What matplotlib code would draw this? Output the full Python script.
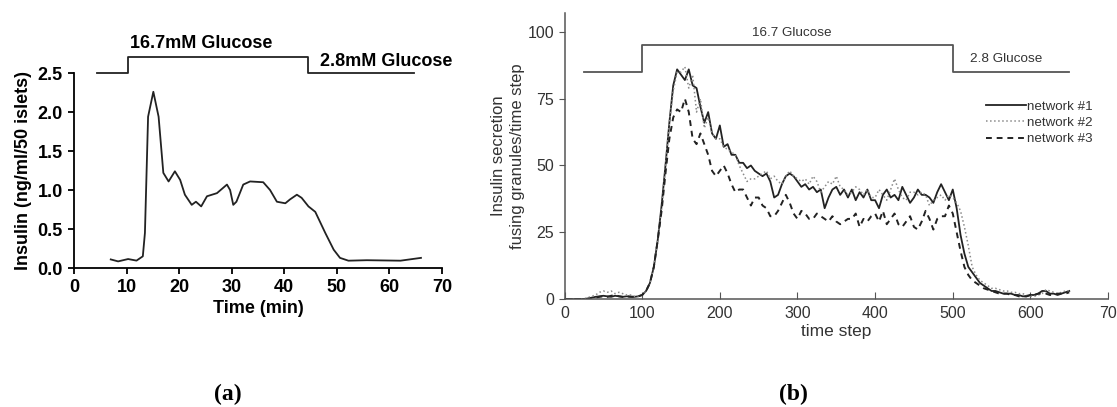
import numpy as np
import matplotlib
matplotlib.use("Agg")
import matplotlib.pyplot as plt

# (a) measured insulin release from islets
time_min = [7.0, 8.4, 10.3, 11.9, 13.1, 13.5, 14.1, 15.1, 16.1, 17.0, 18.0, 19.2,
            20.2, 21.1, 22.4, 23.2, 24.2, 25.3, 27.2, 29.1, 29.7, 30.3, 30.9, 32.2,
            33.5, 36.0, 37.3, 38.6, 40.2, 41.1, 42.4, 43.3, 44.6, 45.9, 47.8, 49.4,
            50.6, 52.2, 55.7, 62.1, 66.0]
insulin = [0.11, 0.085, 0.115, 0.095, 0.15, 0.45, 1.94, 2.26, 1.94, 1.22, 1.11, 1.24,
           1.13, 0.94, 0.81, 0.85, 0.79, 0.92, 0.96, 1.07, 1.0, 0.81, 0.85, 1.07,
           1.11, 1.1, 1.0, 0.85, 0.83, 0.88, 0.94, 0.9, 0.79, 0.72, 0.45, 0.235,
           0.13, 0.094, 0.1, 0.094, 0.13]

# glucose protocol (a): start, switch up, switch down, end
glu_a_t = [4.4, 10.3, 10.3, 44.6, 44.6, 64.6]
glu_a_y = [2.5, 2.5, 2.71, 2.71, 2.5, 2.5]

# (b) simulated secretion, one value every 5 time steps
steps = np.arange(0, 655, 5)
net1 = [0, 0, 0, 0, 0, 0, 0.2, 0.5, 0.8, 1.0, 1.2, 1.0, 0.8, 1.2, 1.0, 0.8, 1.0, 0.9, 0.8, 1.0,
        1.5, 3, 6, 12, 22, 35, 50, 66, 80, 86, 84, 82, 86, 80, 79, 72, 66, 70, 62, 60,
        65, 57, 58, 54, 54, 51, 51, 49, 50, 48, 47, 46, 47, 44, 38, 39, 43, 46, 47, 46,
        44, 42, 43, 41, 42, 40, 41, 34, 38, 41, 42, 39, 41, 38, 41, 37, 40, 38, 41, 37,
        37, 34, 39, 41, 38, 39, 37, 42, 39, 36, 38, 41, 39, 39, 38, 36, 40, 43, 40, 37,
        41, 34, 24, 17, 12, 10, 8, 6, 5, 4, 3, 3, 2.5, 2, 2, 2, 1.5, 1.5, 1, 1,
        1.5, 1.5, 2, 3, 3, 2, 2, 1.5, 2, 2.5, 3]
net2 = [0, 0, 0, 0, 0, 0, 0.5, 1, 1.5, 2.5, 3, 2.5, 3, 2, 2.5, 2, 1.5, 1.5, 1, 1,
        1.5, 3, 6, 12, 22, 34, 50, 66, 78, 85, 85, 87, 79, 84, 70, 75, 64, 68, 62, 60,
        60, 57, 56, 55, 54, 50, 47, 44, 45, 45, 46, 47, 48, 45, 46, 44, 43, 46, 48, 46,
        45, 44, 45, 43, 46, 44, 40, 42, 44, 43, 46, 42, 41, 39, 40, 42, 41, 39, 41, 38,
        38, 41, 39, 37, 41, 45, 41, 38, 37, 40, 40, 39, 40, 39, 35, 37, 38, 39, 37, 39,
        38, 36, 33, 27, 20, 12, 9, 7, 6, 5, 4, 4, 3.5, 3, 3, 2.5, 2.5, 2, 2, 1.5,
        1, 1, 1.5, 2, 3.5, 3, 2.5, 2, 2.5, 3, 3]
net3 = [0, 0, 0, 0, 0, 0, 0, 0.3, 0.5, 0.8, 1, 0.8, 1.2, 1.5, 1, 0.8, 1, 0.8, 0.8, 1,
        1.5, 3, 6, 12, 22, 33, 47, 60, 68, 71, 70, 75, 70, 60, 58, 62, 58, 54, 48, 46,
        48, 50, 47, 43, 40, 41, 41, 38, 35, 38, 38, 35, 34, 31, 31, 33, 36, 39, 36, 32,
        30, 33, 32, 30, 30, 32, 31, 30, 29, 31, 29, 28, 29, 30, 30, 32, 27, 30, 29, 31,
        32, 29, 33, 28, 30, 32, 28, 27, 29, 31, 27, 26, 29, 33, 30, 26, 30, 31, 31, 35,
        32, 25, 18, 12, 9, 7, 6, 5, 4, 3.5, 3, 2.5, 2, 2, 2, 1.5, 1.5, 1, 1, 1,
        1.5, 1.5, 2, 2, 2, 1.5, 1.5, 2, 2, 2, 2.5]
step_ticks = [0, 100, 200, 300, 400, 500, 600, 700]
step_labels = ['0', '100', '200', '300', '400', '500', '600', '70']

# glucose protocol (b)
glu_b_t = [25, 100, 100, 500, 500, 650]
glu_b_y = [85, 85, 95, 95, 85, 85]

fig = plt.figure(figsize=(11.17, 4.07), dpi=100)
plt.rcParams['font.family'] = ['Liberation Sans', 'DejaVu Sans']

# ---- panel a ----
ax1 = fig.add_axes([0.0662, 0.3415, 0.3295, 0.479])
ax1.plot(time_min, insulin, color='#222222', lw=1.3)
ax1.plot(glu_a_t, glu_a_y, color='#222222', lw=1.3, clip_on=False)
ax1.text(10.66, 2.885, '16.7mM Glucose', fontsize=13, fontweight='bold', va='center')
ax1.text(46.8, 2.654, '2.8mM Glucose', fontsize=13, fontweight='bold', va='center')
ax1.set_xlim(0, 70)
ax1.set_ylim(0, 2.5)
ax1.set_xticks(range(0, 71, 10))
ax1.set_yticks([0, 0.5, 1.0, 1.5, 2.0, 2.5])
ax1.set_yticklabels(['0.0', '0.5', '1.0', '1.5', '2.0', '2.5'])
for s in ['top', 'right']:
    ax1.spines[s].set_visible(False)
for s in ['left', 'bottom']:
    ax1.spines[s].set_linewidth(1.3)
ax1.tick_params(direction='out', length=4, width=1.3, labelsize=13, pad=4)
for lab in ax1.get_xticklabels() + ax1.get_yticklabels():
    lab.set_fontweight('bold')
ax1.set_xlabel('Time (min)', fontsize=13, fontweight='bold', labelpad=3)
ax1.set_ylabel('Insulin (ng/ml/50 islets)', fontsize=13, fontweight='bold', labelpad=4)

# ---- panel b ----
ax2 = fig.add_axes([0.5054, 0.2654, 0.4866, 0.7019])
gray = '#555555'
ax2.plot(steps, net1, color='#222222', lw=1.3, label='network #1')
ax2.plot(steps, net2, color='#8a8a8a', lw=1.1, ls=':', label='network #2')
ax2.plot(steps, net3, color='#222222', lw=1.4, ls=(0, (3, 2.5)), label='network #3')
ax2.plot(glu_b_t, glu_b_y, color=gray, lw=1.3)
ax2.text(292, 99.6, '16.7 Glucose', fontsize=9.7, color='#333333', ha='center', va='center')
ax2.text(569, 89.7, '2.8 Glucose', fontsize=9.7, color='#333333', ha='center', va='center')
ax2.set_xlim(0, 700)
ax2.set_ylim(0, 107)
ax2.set_xticks(step_ticks)
ax2.set_xticklabels(step_labels)
ax2.set_yticks([0, 25, 50, 75, 100])
for s in ['top', 'right']:
    ax2.spines[s].set_visible(False)
for s in ['left', 'bottom']:
    ax2.spines[s].set_color(gray)
    ax2.spines[s].set_linewidth(1.1)
ax2.tick_params(axis='x', direction='in', length=5, color=gray, labelsize=11.5,
                labelcolor='#333333', pad=5)
ax2.tick_params(axis='y', direction='out', length=4, color=gray, labelsize=11.5,
                labelcolor='#333333')
ax2.set_xlabel('time step', fontsize=12.5, color='#333333', labelpad=2)
ax2.set_ylabel('Insulin secretion\nfusing granules/time step', fontsize=12,
               color='#333333', labelpad=2, linespacing=1.3)
ax2.legend(loc='upper left', bbox_to_anchor=(0.775, 0.695), frameon=False, fontsize=9.6,
           handlelength=3.0, handletextpad=0.1, labelspacing=0.3, labelcolor='#333333',
           borderpad=0, borderaxespad=0)

# panel letters
fig.text(228 / 1117, 1 - 394 / 407, '(a)', fontsize=17, fontweight='bold',
         family=['Liberation Serif', 'DejaVu Serif'], ha='center', va='center')
fig.text(793 / 1117, 1 - 394 / 407, '(b)', fontsize=17, fontweight='bold',
         family=['Liberation Serif', 'DejaVu Serif'], ha='center', va='center')

fig.savefig('out.png', dpi=100)
